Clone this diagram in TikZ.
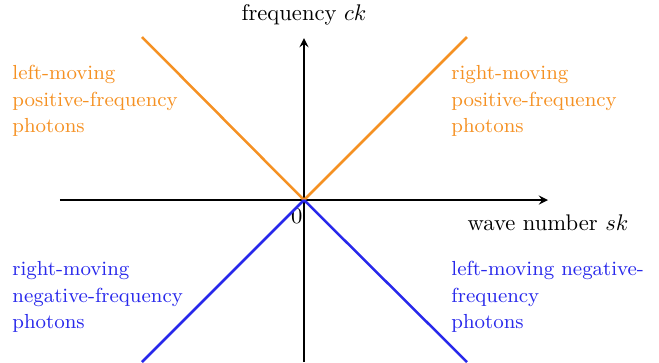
\documentclass[tikz,border=0pt]{standalone}
\usepackage{amsmath,amssymb}
\definecolor{photonorange}{RGB}{245,145,35}
\definecolor{photonblue}{RGB}{40,40,235}

\begin{document}
\begin{tikzpicture}[x=0.442pt,y=0.442pt,>=stealth,
    branch/.style={line width=1.1pt},
    region/.style={align=left,anchor=north west,inner sep=0pt,
      font=\fontsize{9}{11.7}\selectfont}]
  \useasboundingbox (-304,-162) rectangle (355,200);

  % Axes.
  \coordinate (O) at (0,0);
  \coordinate (xend) at (244,0);
  \coordinate (yend) at (0,162);
  \draw[->,thick] (-244,0) -- (xend) node[below=3pt] (xlab) {wave number $sk$};
  \draw[->,thick] (0,-162) -- (yend) node[above=2pt] (ylab) {frequency $ck$};
  \node[anchor=north east,inner sep=0pt] (zero) at (-1,-8) {$0$};

  % Positive-frequency branches.
  \coordinate (ul) at (-162,163);
  \coordinate (ur) at (163,163);
  \draw[branch,photonorange] (O) -- (ul);
  \draw[branch,photonorange] (O) -- (ur);

  % Negative-frequency branches.
  \coordinate (ll) at (-162,-162);
  \coordinate (lr) at (163,-162);
  \draw[branch,photonblue] (O) -- (ll);
  \draw[branch,photonblue] (O) -- (lr);

  % Labels of the four quadrants.
  \node[region,photonorange] (lpos) at (-292,135)
    {left-moving\\positive-frequency\\photons};
  \node[region,photonorange] (rpos) at (147,135)
    {right-moving\\positive-frequency\\photons};
  \node[region,photonblue] (lneg) at (-292,-61)
    {right-moving\\negative-frequency\\photons};
  \node[region,photonblue] (rneg) at (147,-61)
    {left-moving negative-\\frequency\\photons};
\end{tikzpicture}
\end{document}
